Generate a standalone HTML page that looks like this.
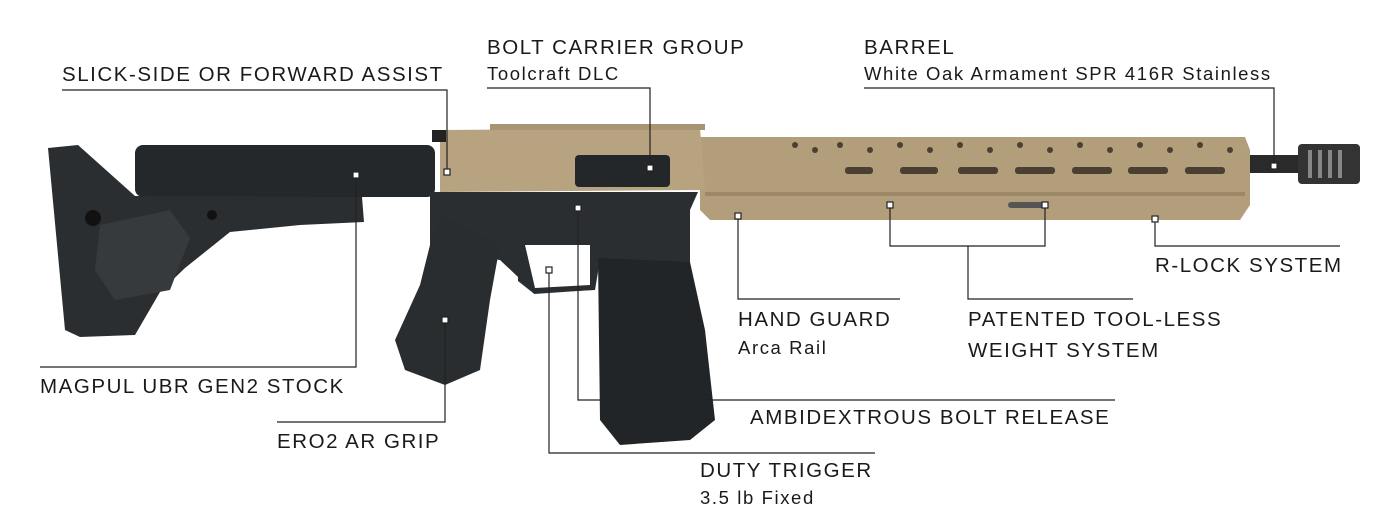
<!DOCTYPE html>
<html><head><meta charset="utf-8"><style>
html,body{margin:0;padding:0;background:#fff;}
svg{display:block;}
text{font-family:"Liberation Sans",sans-serif;fill:#1a1a1a;}
.h{font-size:20.5px;letter-spacing:1.55px;}
.s{font-size:18.5px;letter-spacing:1.6px;}
</style></head><body>
<svg width="1395" height="521" viewBox="0 0 1395 521" xmlns="http://www.w3.org/2000/svg">
<g>
<rect x="1240" y="155" width="70" height="18" fill="#2a2a2a"/>
<rect x="1298" y="144" width="62" height="40" rx="4" fill="#333"/>
<g fill="#888"><rect x="1308" y="150" width="4" height="28"/><rect x="1318" y="150" width="4" height="28"/><rect x="1328" y="150" width="4" height="28"/><rect x="1338" y="150" width="4" height="28"/></g>
<rect x="135" y="145" width="300" height="52" rx="8" fill="#25282a"/>
<path d="M48 148 L78 145 L135 196 L362 197 L364 222 L300 225 L230 232 L185 268 L160 292 L135 335 L80 337 L65 330 Z" fill="#2b2e30"/>
<path d="M100 225 L170 210 L190 238 L170 290 L115 300 L95 270 Z" fill="#363a3d"/>
<circle cx="93" cy="218" r="8" fill="#111"/>
<circle cx="212" cy="215" r="5" fill="#111"/>
<path d="M700 137 L1245 137 L1250 150 L1250 205 L1240 220 L710 220 L700 210 Z" fill="#b39e7c"/>
<rect x="705" y="192" width="540" height="4" fill="#9c8866"/>
<g fill="#4a3f30">
<rect x="845" y="167" width="28" height="7" rx="3"/><rect x="900" y="167" width="38" height="7" rx="3"/><rect x="958" y="167" width="40" height="7" rx="3"/><rect x="1015" y="167" width="40" height="7" rx="3"/><rect x="1072" y="167" width="40" height="7" rx="3"/><rect x="1128" y="167" width="40" height="7" rx="3"/><rect x="1185" y="167" width="40" height="7" rx="3"/>
</g>
<g fill="#4a3f30">
<circle cx="795" cy="145" r="3"/><circle cx="815" cy="150" r="3"/><circle cx="840" cy="145" r="3"/><circle cx="870" cy="150" r="3"/><circle cx="900" cy="145" r="3"/><circle cx="930" cy="150" r="3"/><circle cx="960" cy="145" r="3"/><circle cx="990" cy="150" r="3"/><circle cx="1020" cy="145" r="3"/><circle cx="1050" cy="150" r="3"/><circle cx="1080" cy="145" r="3"/><circle cx="1110" cy="150" r="3"/><circle cx="1140" cy="145" r="3"/><circle cx="1170" cy="150" r="3"/><circle cx="1200" cy="145" r="3"/><circle cx="1230" cy="150" r="3"/>
</g>
<rect x="1008" y="202" width="40" height="6" rx="3" fill="#555"/>
<path d="M440 130 L700 128 L705 190 L440 192 Z" fill="#b8a381"/>
<rect x="490" y="124" width="215" height="6" fill="#a89474"/>
<rect x="575" y="155" width="95" height="32" rx="4" fill="#24272a"/>
<rect x="432" y="130" width="14" height="12" fill="#222"/>
<path d="M430 192 L698 192 L690 210 L690 265 L650 275 L600 260 L595 290 L535 293 L500 260 L430 250 Z" fill="#2b2e31"/>
<path d="M525 245 L590 245 L590 285 L535 288 Z" fill="#fff"/>
<path d="M520 245 L520 280 L535 292 L592 288 L594 245" fill="none" stroke="#2b2e31" stroke-width="4"/>
<path d="M440 215 L500 245 L490 300 L480 370 L445 385 L405 370 L395 340 L420 285 L430 245 Z" fill="#2a2d2f"/>
<path d="M598 258 L690 262 L705 330 L715 420 L690 440 L620 445 L600 420 Z" fill="#222527"/>
</g>
<g stroke="#222" stroke-width="1.2" fill="none">
<polyline points="62,90 447,90 447,172"/>
<polyline points="487,88 650,88 650,167"/>
<polyline points="864,88 1274,88 1274,166"/>
<polyline points="1155,219 1155,246 1340,246"/>
<polyline points="738,216 738,299 900,299"/>
<polyline points="890,205 890,246 1045,246 1045,205"/>
<polyline points="968,246 968,299 1133,299"/>
<polyline points="356,175 356,367 40,367"/>
<polyline points="445,320 445,422 277,422"/>
<polyline points="578,208 578,400 1115,400"/>
<polyline points="549,270 549,453 875,453"/>
</g>
<g fill="#fff" stroke="#222" stroke-width="1.2">
<rect x="444" y="169" width="6" height="6"/><rect x="647" y="165" width="6" height="6"/><rect x="1271" y="163" width="6" height="6"/><rect x="1152" y="216" width="6" height="6"/><rect x="735" y="213" width="6" height="6"/><rect x="887" y="202" width="6" height="6"/><rect x="1042" y="202" width="6" height="6"/><rect x="353" y="172" width="6" height="6"/><rect x="442" y="317" width="6" height="6"/><rect x="575" y="205" width="6" height="6"/><rect x="546" y="267" width="6" height="6"/>
</g>
<text class="h" x="62" y="81">SLICK-SIDE OR FORWARD ASSIST</text>
<text class="h" x="487" y="54">BOLT CARRIER GROUP</text>
<text class="s" x="487" y="80">Toolcraft DLC</text>
<text class="h" x="864" y="54">BARREL</text>
<text class="s" x="864" y="80">White Oak Armament SPR 416R Stainless</text>
<text class="h" x="1155" y="272">R-LOCK SYSTEM</text>
<text class="h" x="738" y="326">HAND GUARD</text>
<text class="s" x="738" y="354">Arca Rail</text>
<text class="h" x="968" y="326">PATENTED TOOL-LESS</text>
<text class="h" x="968" y="357">WEIGHT SYSTEM</text>
<text class="h" x="40" y="393">MAGPUL UBR GEN2 STOCK</text>
<text class="h" x="277" y="448">ERO2 AR GRIP</text>
<text class="h" x="750" y="424">AMBIDEXTROUS BOLT RELEASE</text>
<text class="h" x="700" y="477">DUTY TRIGGER</text>
<text class="s" x="700" y="504">3.5 lb Fixed</text>
</svg>
</body></html>
